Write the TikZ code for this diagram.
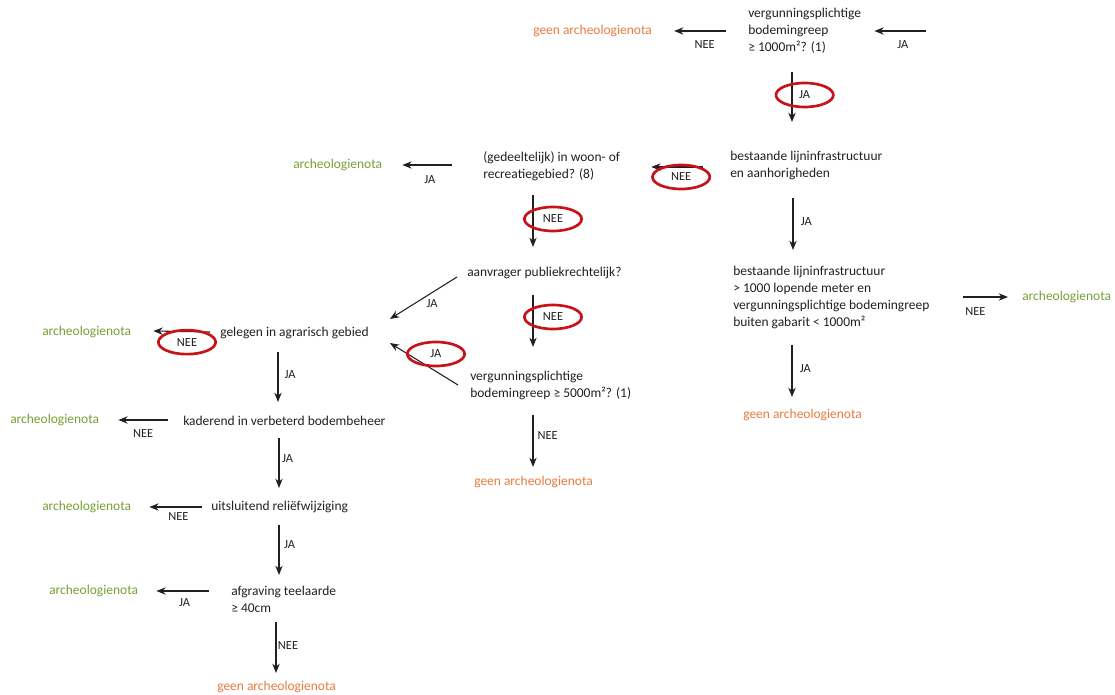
\documentclass[tikz,border=0pt]{standalone}
\usepackage{fontspec}
\setmainfont{Carlito}
\usepackage{xcolor}
\usepackage{tikz}
\usetikzlibrary{arrows.meta,calc,shapes.geometric}

\definecolor{txt}{RGB}{35,31,32}
\definecolor{grn}{RGB}{118,160,52}
\definecolor{org}{RGB}{232,122,62}
\definecolor{ringred}{RGB}{198,18,24}

\begin{document}
\begin{tikzpicture}[x=0.75pt,y=0.75pt,yscale=-1,xscale=1,
  tx/.style={anchor=west, inner sep=0pt, align=left, text=txt, font=\fontsize{10.1}{12.75}\selectfont},
  nota/.style={tx, text=grn},
  geen/.style={tx, text=org},
  arr/.style={draw=txt, line width=0.8pt, -{Stealth[length=7pt,width=5.5pt]}},
  lab/.style={midway, anchor=center, inner sep=1pt, text=txt, font=\fontsize{9.3}{10}\selectfont},
  ring/.style={draw=ringred, line width=2pt, shape=ellipse, minimum width=43pt, minimum height=18pt, inner sep=0pt}]
\useasboundingbox (0,0) rectangle (1115,695);

% Text Node
\draw (748,31) node (q1) [tx] {vergunningsplichtige\\bodemingreep\\≥ 1000m²? (1)};
% Text Node
\draw (533,31) node (g1) [geen] {geen archeologienota};
% Text Node
\draw (730,165) node (b1) [tx] {bestaande lijninfrastructuur\\en aanhorigheden};
% Text Node
\draw (483,166) node (w1) [tx] {(gedeeltelijk) in woon- of\\recreatiegebied? (8)};
% Text Node
\draw (293,165) node (a1) [nota] {archeologienota};
% Text Node
\draw (467,273) node (p1) [tx] {aanvrager publiekrechtelijk?};
% Text Node
\draw (733,297) node (b2) [tx] {bestaande lijninfrastructuur\\> 1000 lopende meter en\\vergunningsplichtige bodemingreep\\buiten gabarit < 1000m²};
% Text Node
\draw (1022,297) node (a2) [nota] {archeologienota};
% Text Node
\draw (743,415) node (g2) [geen] {geen archeologienota};
% Text Node
\draw (220,333) node (ge) [tx] {gelegen in agrarisch gebied};
% Text Node
\draw (470,385) node (v2) [tx] {vergunningsplichtige\\bodemingreep ≥ 5000m²? (1)};
% Text Node
\draw (474,482) node (g3) [geen] {geen archeologienota};
% Text Node
\draw (42,332) node (a3) [nota] {archeologienota};
% Text Node
\draw (183,421) node (kd) [tx] {kaderend in verbeterd bodembeheer};
% Text Node
\draw (10,420) node (a4) [nota] {archeologienota};
% Text Node
\draw (211,507) node (uw) [tx] {uitsluitend reliëfwijziging};
% Text Node
\draw (42,507) node (a5) [nota] {archeologienota};
% Text Node
\draw (231,599) node (af) [tx] {afgraving teelaarde\\≥ 40cm};
% Text Node
\draw (49,591) node (a6) [nota] {archeologienota};
% Text Node
\draw (217,687) node (g4) [geen] {geen archeologienota};

\coordinate (st) at ($(q1.west)+(178,0)$);

%Straight Lines
\draw [arr] ($(q1.west)+(-22,0)$) -- node[lab, xshift=3.4pt, yshift=-10.5pt] (l1) {NEE} ($(g1.east)+(22,0)$);
%Straight Lines
\draw [arr] (st) -- node[lab, xshift=2pt, yshift=-10.5pt] (l2) {JA} ($(q1.east)+(13,0)$);
%Straight Lines
\draw [arr] ($(q1.west)+(44,41)$) -- node[lab, ring, xshift=9.5pt, yshift=1.5pt] (l3) {JA} ($(b1.west)+(62,-43)$);
%Straight Lines
\draw [arr] ($(b1.west)+(-27,2)$) -- node[lab, ring, xshift=3pt, yshift=-7.5pt] (l4) {NEE} ($(w1.east)+(31,1)$);
%Straight Lines
\draw [arr] ($(w1.west)+(-31,-1)$) -- node[lab, xshift=2pt, yshift=-11pt] (l5) {JA} ($(a1.east)+(20,0)$);
%Straight Lines
\draw [arr] ($(w1.west)+(50,29)$) -- node[lab, ring, xshift=15pt, yshift=1.5pt] (l6) {NEE} ($(p1.west)+(66,-26)$);
%Straight Lines
\draw [arr] ($(b1.west)+(63,33)$) -- node[lab, xshift=10pt, yshift=2pt] (l7) {JA} ($(b2.west)+(60,-47)$);
%Straight Lines
\draw [arr] ($(b2.east)+(33,0)$) -- node[lab, xshift=-7.5pt, yshift=-11pt] (l8) {NEE} ($(a2.west)+(-14,0)$);
%Straight Lines
\draw [arr] ($(b2.west)+(59,48)$) -- node[lab, xshift=10pt, yshift=2pt] (l9) {JA} ($(g2.west)+(49,-18)$);
%Straight Lines
\draw [arr] ($(p1.west)+(-10,4)$) -- node[lab, xshift=6.5pt, yshift=-4pt] (l10) {JA} ($(ge.east)+(21,-14)$);
%Straight Lines
\draw [arr] ($(p1.west)+(66,22)$) -- node[lab, ring, xshift=15pt, yshift=3pt] (l11) {NEE} ($(v2.west)+(63,-38)$);
%Straight Lines
\draw [arr] ($(v2.west)+(-12,0)$) -- node[lab, ring, xshift=9pt, yshift=7.5pt] (l12) {JA} ($(ge.east)+(21,10)$);
%Straight Lines
\draw [arr] ($(v2.west)+(63,30)$) -- node[lab, xshift=11pt, yshift=4pt] (l13) {NEE} ($(g3.west)+(59,-15)$);
%Straight Lines
\draw [arr] ($(ge.west)+(-10,-1)$) -- node[lab, ring, xshift=4pt, yshift=-8pt] (l14) {NEE} ($(a3.east)+(22,-1)$);
%Straight Lines
\draw [arr] ($(ge.west)+(58,19)$) -- node[lab, xshift=9pt, yshift=2pt] (l15) {JA} ($(kd.west)+(95,-19)$);
%Straight Lines
\draw [arr] ($(kd.west)+(-15,-1)$) -- node[lab, xshift=0pt, yshift=-10pt] (l16) {NEE} ($(a4.east)+(19,0)$);
%Straight Lines
\draw [arr] ($(kd.west)+(96,17)$) -- node[lab, xshift=6.5pt, yshift=3pt] (l17) {JA} ($(uw.west)+(68,-19)$);
%Straight Lines
\draw [arr] ($(uw.west)+(-9,0)$) -- node[lab, xshift=2pt, yshift=-7.5pt] (l18) {NEE} ($(a5.east)+(18,0)$);
%Straight Lines
\draw [arr] ($(uw.west)+(68,18)$) -- node[lab, xshift=8pt, yshift=4pt] (l19) {JA} ($(af.west)+(48,-24)$);
%Straight Lines
\draw [arr] ($(af.west)+(-22,-8)$) -- node[lab, xshift=1.5pt, yshift=-9pt] (l20) {JA} ($(a6.east)+(18,0)$);
%Straight Lines
\draw [arr] ($(af.west)+(45,23)$) -- node[lab, xshift=9pt, yshift=1.5pt] (l21) {NEE} ($(g4.west)+(59,-14)$);
\end{tikzpicture}
\end{document}
